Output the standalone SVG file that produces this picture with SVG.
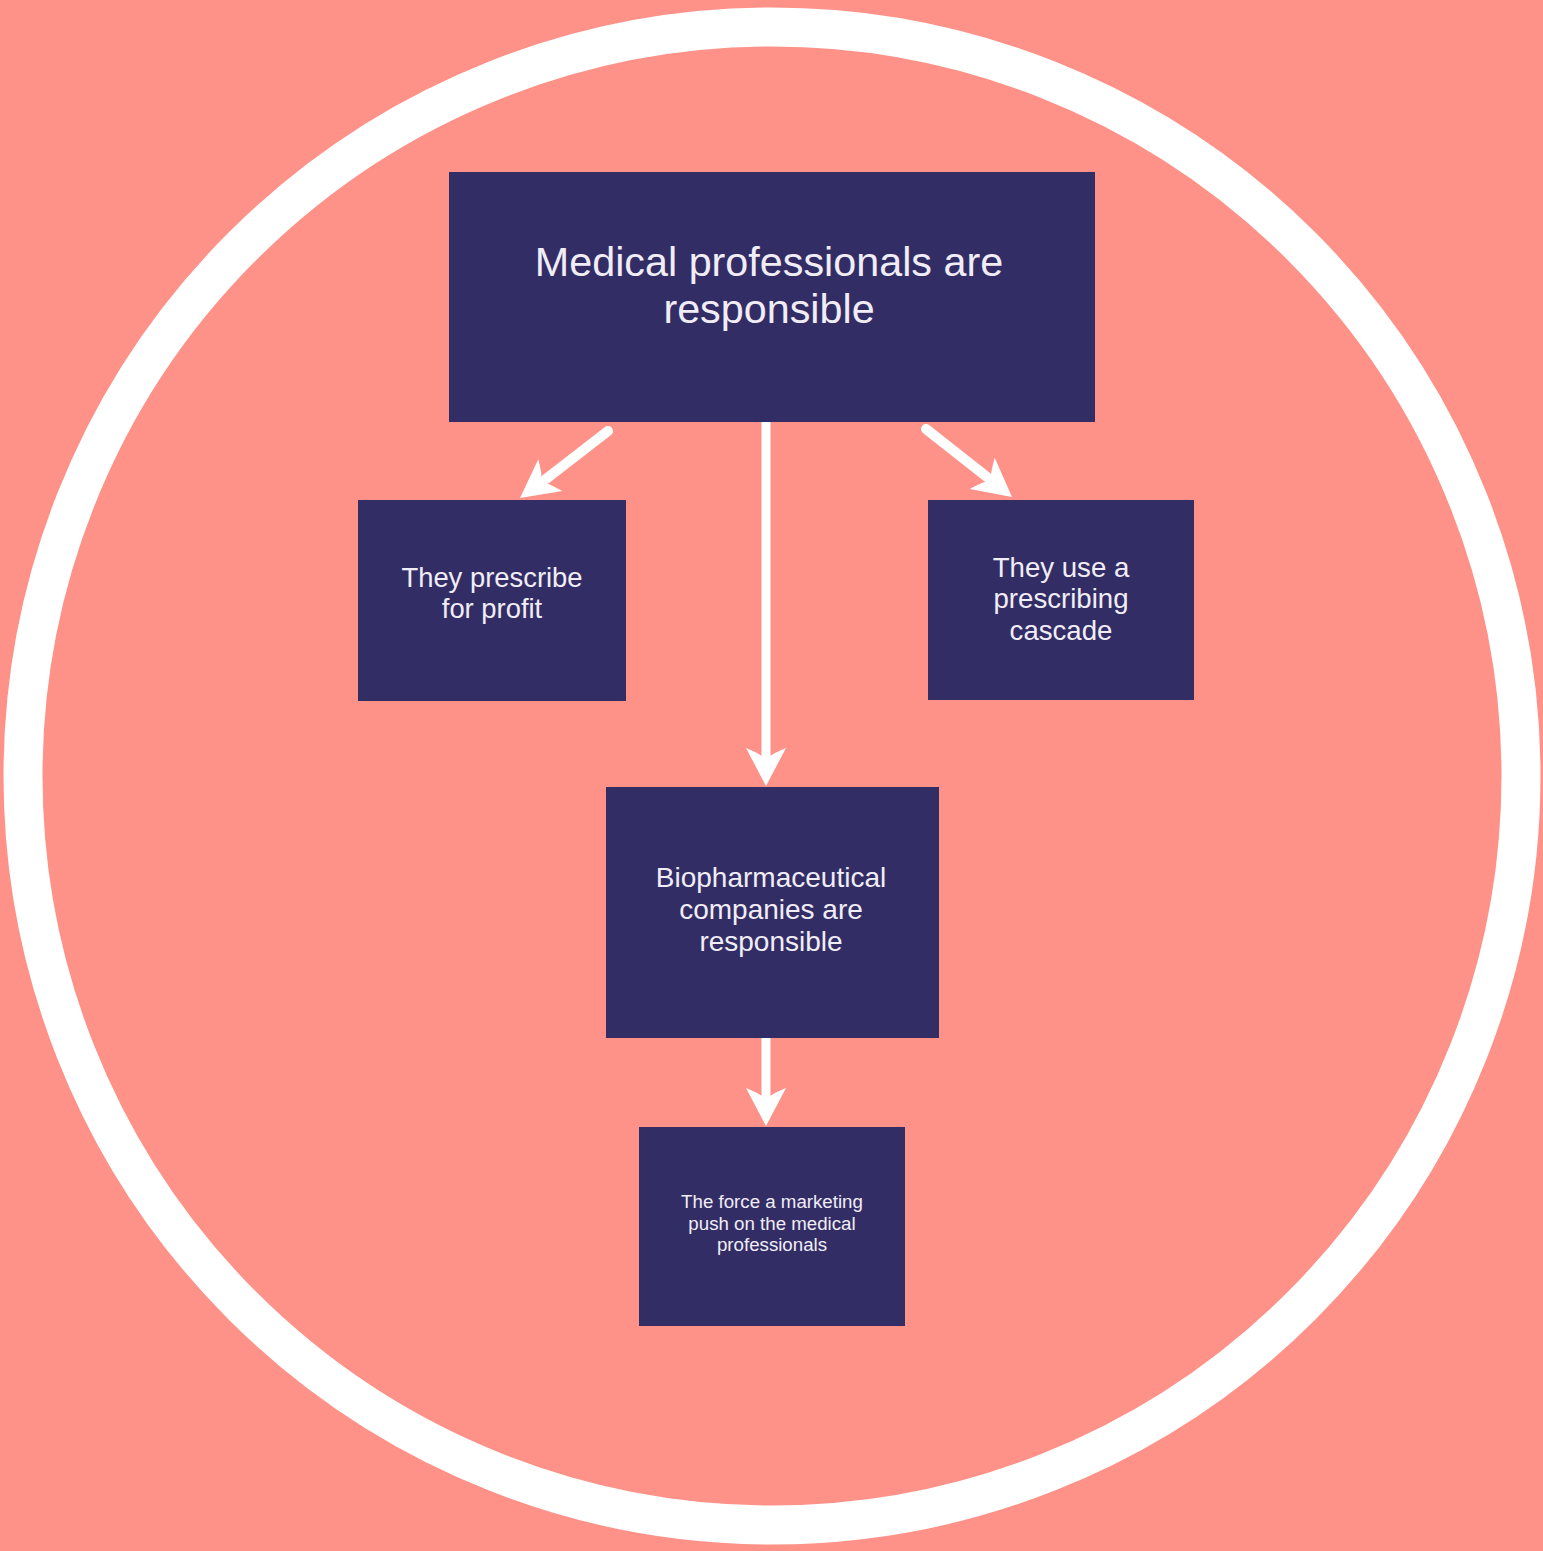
<svg xmlns="http://www.w3.org/2000/svg" width="1543" height="1551" viewBox="0 0 1543 1551">
<style>
.box{fill:#332D66}
.t{font-family:"Liberation Sans",Arial,sans-serif;fill:#F1EDF6;text-anchor:middle}
.c{stroke:#FFFFFF;stroke-width:10;fill:none;stroke-linecap:round}
.c2{stroke:#FFFFFF;stroke-width:9;fill:none;stroke-linecap:butt}
.h{fill:#FFFFFF}
</style>
<defs>
<path id="head" d="M0,0 L-38,-20 Q-33,-8 -30,-4 L-30,4 Q-33,8 -38,20 Z"/>
</defs>
<rect width="1543" height="1551" fill="#FE9288"/>
<circle cx="772" cy="776" r="749" fill="none" stroke="#FFFFFF" stroke-width="39"/>
<g id="connectors">
<path class="c" d="M608,431 L546,479"/>
<use class="h" href="#head" transform="translate(520,498) rotate(143)"/>
<path class="c" d="M926,429 L987,477"/>
<use class="h" href="#head" transform="translate(1012,497) rotate(38.5)"/>
<path class="c2" d="M766,422 L766,758"/>
<use class="h" href="#head" transform="translate(766,786) rotate(90)"/>
<path class="c2" d="M766,1038 L766,1098"/>
<use class="h" href="#head" transform="translate(766,1126) rotate(90)"/>
</g>
<g id="n1">
<rect class="box" x="449" y="172" width="646" height="250"/>
<text class="t" font-size="41.3" x="769" y="276">Medical professionals are</text>
<text class="t" font-size="41.3" x="769" y="323">responsible</text>
</g>
<g id="n2">
<rect class="box" x="358" y="500" width="268" height="201"/>
<text class="t" font-size="27.4" x="492" y="587">They prescribe</text>
<text class="t" font-size="27.4" x="492" y="618">for profit</text>
</g>
<g id="n3">
<rect class="box" x="928" y="500" width="266" height="200"/>
<text class="t" font-size="27.6" x="1061" y="577">They use a</text>
<text class="t" font-size="27.6" x="1061" y="608">prescribing</text>
<text class="t" font-size="27.6" x="1061" y="640">cascade</text>
</g>
<g id="n4">
<rect class="box" x="606" y="787" width="333" height="251"/>
<text class="t" font-size="28" x="771" y="887">Biopharmaceutical</text>
<text class="t" font-size="28" x="771" y="919">companies are</text>
<text class="t" font-size="28" x="771" y="951">responsible</text>
</g>
<g id="n5">
<rect class="box" x="639" y="1127" width="266" height="199"/>
<text class="t" font-size="18.7" x="772" y="1208">The force a marketing</text>
<text class="t" font-size="18.7" x="772" y="1230">push on the medical</text>
<text class="t" font-size="18.7" x="772" y="1251">professionals</text>
</g>
</svg>
